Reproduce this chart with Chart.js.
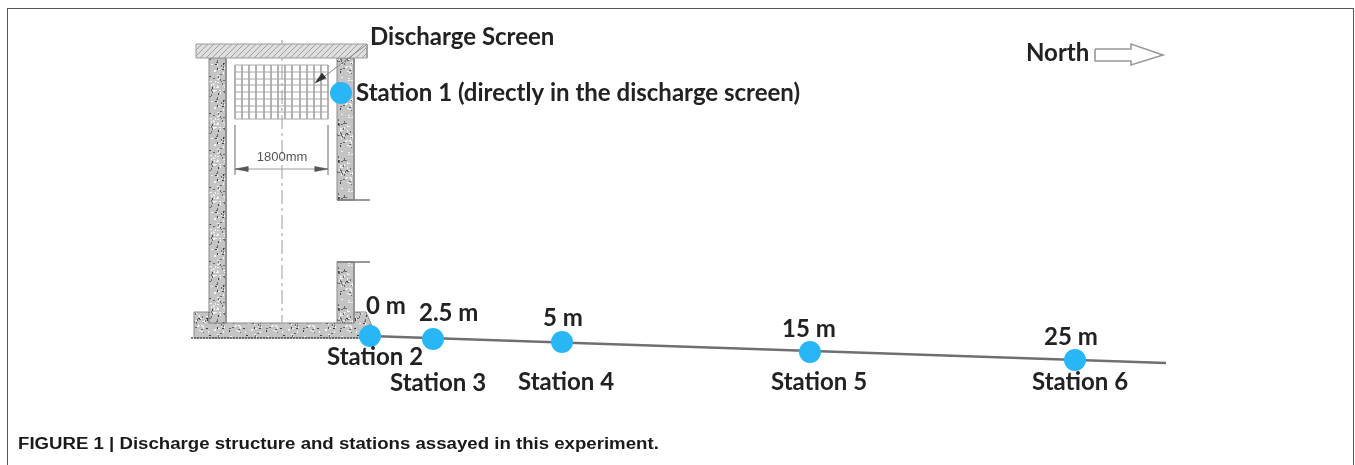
<!DOCTYPE html>
<html><head><meta charset="utf-8">
<script src="https://cdn.jsdelivr.net/npm/chart.js@4"></script>
<style>
html,body{margin:0;padding:0;background:#fff;overflow:hidden}
#wrap{position:relative;width:1355px;height:465px;overflow:hidden}
canvas{position:absolute;left:0;top:0;filter:blur(0.7px)}
#frame{position:absolute;left:7px;top:8px;width:1347px;height:470px;border:1px solid #555;box-sizing:border-box}
#cap{position:absolute;left:18px;top:434px;font:bold 16.8px "Liberation Sans",sans-serif;color:#1a1a1a;white-space:nowrap;transform:scaleX(1.11);transform-origin:left center}
</style></head><body>
<div id="wrap">
<canvas id="c" width="1355" height="465"></canvas>
<div id="frame"></div>
<div id="cap">FIGURE 1 | Discharge structure and stations assayed in this experiment.</div>
</div>
<script>
// Stations
const stationNames = ["Station 1 (directly in the discharge screen)","Station 2","Station 3","Station 4","Station 5","Station 6"];
const stationX = [341,370,433,562,810,1075];
const stationY = [93,336,339,342,352,360];
const stationLabelX = [356,327,390,518,771,1032];
const stationLabelY = [93,357,383,382,382,382];
const distanceNames = ["0 m","2.5 m","5 m","15 m","25 m"];
const distanceX = [366,419,543,782,1044];
const distanceY = [306,313,318,329,337];
const otherNames = ["Discharge Screen","North"];
const otherX = [370,1026];
const otherY = [37,53];
// Structure outlines
const groundX = [370,1166], groundY = [336,363];
const baseLineX = [191,372], baseLineY = [338,338];
const beamX = [196,367,367,196], beamY = [44,44,58,58];
const leftWallX = [209,226,226,209], leftWallY = [58,58,323,323];
const rightUpperX = [337,354,354,337], rightUpperY = [58,58,200,200];
const rightLowerX = [337,354,354,337], rightLowerY = [262,262,323,323];
const footX = [194,209,209,337,337,354,354,366,372,372,194], footY = [312,312,323,323,323,323,312,312,326,338,338];
const openTopX = [337,370], openTopY = [200,200];
const openBotX = [337,370], openBotY = [262,262];
const centreX = [282,282], centreY = [40,322];
const gridLeft = 235, gridRight = 328, gridTop = 65, gridBottom = 119;
const gridVerticals = [235,242,249,256,264,271,278,285,292,300,307,314,321,328];
const gridHorizontals = [65,72,79,85,92,99,106,112,119];
const dimLeftX = [235,235], dimRightX = [328,328], dimExtY = [125,175];
const dimX = [235,328], dimY = [169,169];
const dimHeadLX = [235,248,248], dimHeadLY = [169,166.5,171.5];
const dimHeadRX = [328,315,315], dimHeadRY = [169,166.5,171.5];
const dimText = "1800mm";
const leaderX = [317,366], leaderY = [82,45];
const leaderHeadX = [315,326,322], leaderHeadY = [83,78,73];
const northX = [1095,1131,1131,1163,1131,1131,1095,1095];
const northY = [49,49,44,55,65,61,61,49];

const zip = (xs,ys)=>xs.map((x,i)=>({x,y:ys[i]}));

function tile(size,painter){
  const t=document.createElement('canvas');t.width=t.height=size;
  const g=t.getContext('2d');painter(g,size);
  return g.createPattern(t,'repeat');
}
const concrete = tile(37,(g,s)=>{
  g.fillStyle='#c4c4c4';g.fillRect(0,0,s,s);
  let h=12345;
  const next=()=>{h=(h*1103+12347)%65536;return h;};
  for(let n=0;n<130;n++){
    const px=next()%s,py=next()%s,k=next()%100;
    g.fillStyle=k<45?'#6a6a6a':(k<85?'#f4f4f4':'#3f3f3f');
    g.fillRect(px,py,1+next()%2,1+next()%2);
  }
});
const hatch = tile(6,(g,s)=>{
  g.fillStyle='#dedede';g.fillRect(0,0,s,s);
  g.strokeStyle='#a0a0a0';g.lineWidth=1;
  g.beginPath();g.moveTo(0,s);g.lineTo(s,0);g.moveTo(-1,1);g.lineTo(1,-1);g.moveTo(s-1,s+1);g.lineTo(s+1,s-1);g.stroke();
});

const line=(xs,ys,color,width,dash)=>({type:'scatter',showLine:true,data:zip(xs,ys),borderColor:color,borderWidth:width,borderDash:dash||[],pointRadius:0,fill:false,tension:0});
const poly=(xs,ys,bg,border,width)=>({type:'scatter',showLine:true,data:zip(xs.concat(xs[0]),ys.concat(ys[0])),borderColor:border,borderWidth:width,backgroundColor:bg,pointRadius:0,fill:'shape',tension:0});

// Chart.js paints the first dataset last, so the array runs from top layer to bottom layer.
const datasets=[
  {type:'scatter',label:'Stations',data:zip(stationX,stationY),pointRadius:11,pointHoverRadius:11,pointBackgroundColor:'#29b6f6',pointBorderWidth:0,showLine:false},
  line(groundX,groundY,'#6f6f6f',2.4),
  poly(northX,northY,'#fff','#999',1.6),
  poly(leaderHeadX,leaderHeadY,'#333','#333',0.5),
  line(leaderX,leaderY,'#888',1),
  poly(dimHeadRX,dimHeadRY,'#555','#555',0.5),
  poly(dimHeadLX,dimHeadLY,'#555','#555',0.5),
  line(dimX,dimY,'#999',1),
  line(dimRightX,dimExtY,'#aaa',1),
  line(dimLeftX,dimExtY,'#aaa',1),
  ...gridHorizontals.map(y=>line([gridLeft,gridRight],[y,y],'#a8a8a8',1)),
  ...gridVerticals.map(x=>line([x,x],[gridTop,gridBottom],'#a8a8a8',1)),
  line(baseLineX,baseLineY,'#555',1.5,[2,1]),
  line(openBotX,openBotY,'#777',1.5),
  line(openTopX,openTopY,'#777',1.5),
  poly(beamX,beamY,hatch,'#9a9a9a',1),
  poly(rightLowerX,rightLowerY,concrete,'#8a8a8a',1),
  poly(rightUpperX,rightUpperY,concrete,'#8a8a8a',1),
  poly(leftWallX,leftWallY,concrete,'#8a8a8a',1),
  poly(footX,footY,concrete,'#8a8a8a',1),
  line(centreX,centreY,'#bdbdbd',1.5,[14,4,3,4])
];

const textPlugin={id:'labels',afterDatasetsDraw(chart){
  const {ctx,scales:{x,y}}=chart;
  ctx.save();
  ctx.textAlign='left';ctx.textBaseline='middle';
  ctx.fillStyle='#222';
  ctx.font='bold 24px Lato, "Open Sans", sans-serif';
  const draw=(names,xs,ys)=>names.forEach((n,i)=>ctx.fillText(n,x.getPixelForValue(xs[i]),y.getPixelForValue(ys[i])));
  draw(stationNames,stationLabelX,stationLabelY);
  draw(distanceNames,distanceX,distanceY);
  draw(otherNames,otherX,otherY);
  ctx.fillStyle='#555';
  ctx.textAlign='center';
  ctx.font='13px "Liberation Sans Narrow","Liberation Sans",sans-serif';
  ctx.fillText(dimText,x.getPixelForValue(282),y.getPixelForValue(157));
  ctx.restore();
}};

new Chart(document.getElementById('c'),{
  type:'scatter',
  data:{datasets},
  plugins:[textPlugin],
  options:{
    responsive:false,animation:false,
    layout:{padding:0,autoPadding:false},
    plugins:{legend:{display:false},title:{display:false},tooltip:{enabled:false}},
    scales:{
      x:{type:'linear',min:0,max:1355,display:false},
      y:{type:'linear',min:0,max:465,reverse:true,display:false}
    }
  }
});
</script>
</body></html>
